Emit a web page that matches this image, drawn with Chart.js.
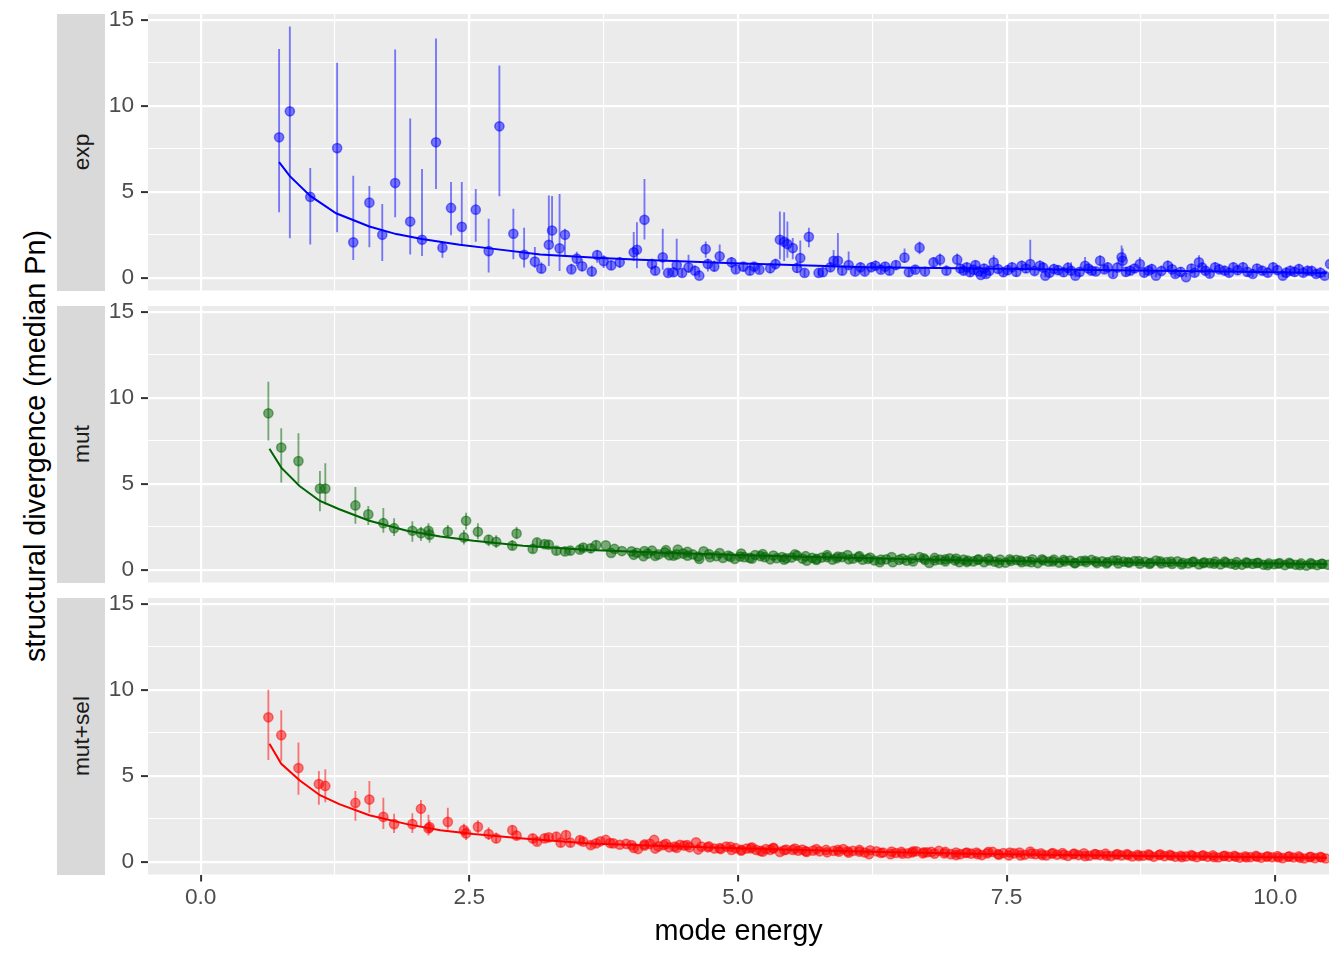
<!DOCTYPE html>
<html>
<head>
<meta charset="utf-8">
<script src="https://cdn.jsdelivr.net/npm/chart.js@4.4.1/dist/chart.umd.min.js"></script>
<style>
  body { margin: 0; background: #fff; width: 1344px; height: 960px; position: relative; overflow: hidden;
         font-family: "Liberation Sans", Arial, sans-serif; }
  canvas { position: absolute; }
  .strip { position: absolute; left: 57px; width: 48px; background: #d9d9d9; }
  .strip span { position: absolute; left: 50%; top: 50%; transform: translate(-50%, -50%) rotate(-90deg);
                color: #1a1a1a; font-size: 22.7px; white-space: nowrap; }
  .ytitle { position: absolute; left: 35px; top: 446px; transform: translate(-50%, -50%) rotate(-90deg);
            font-size: 28.8px; color: #000; white-space: nowrap; }
</style>
</head>
<body>
<div class="ytitle">structural divergence (median Pn)</div>
<script>
// axes
const xTicks = [0, 1.25, 2.5, 3.75, 5, 6.25, 7.5, 8.75, 10];
const xTickLabels = ['0.0', '', '2.5', '', '5.0', '', '7.5', '', '10.0'];
const yTicks = [0, 2.5, 5, 7.5, 10, 12.5, 15];
const yTickLabels = ['0', '', '5', '', '10', '', '15'];
const facetLabels = ['exp', 'mut', 'mut+sel'];

// exp: median Pn per mode, with error range
const expX = [
  0.73, 0.83, 1.02, 1.27, 1.42, 1.57, 1.69, 1.81, 1.95, 2.06,
  2.19, 2.25, 2.33, 2.43, 2.56, 2.68, 2.78, 2.91, 3.01, 3.11,
  3.17, 3.24, 3.27, 3.34, 3.39, 3.45, 3.50, 3.55, 3.64, 3.69,
  3.75, 3.82, 3.90, 4.03, 4.06, 4.13, 4.20, 4.23, 4.30, 4.35,
  4.40, 4.43, 4.48, 4.54, 4.60, 4.64, 4.70, 4.72, 4.78, 4.83,
  4.94, 4.98, 5.05, 5.11, 5.15, 5.20, 5.30, 5.35, 5.39, 5.43,
  5.46, 5.51, 5.55, 5.58, 5.62, 5.66, 5.75, 5.79, 5.86, 5.89,
  5.93, 5.97, 6.03, 6.09, 6.14, 6.18, 6.24, 6.28, 6.33, 6.37,
  6.41, 6.47, 6.55, 6.59, 6.65, 6.69, 6.74, 6.82, 6.88, 6.94,
  7.04, 7.07, 7.10, 7.13, 7.16, 7.19, 7.21, 7.24, 7.26, 7.29,
  7.31, 7.34, 7.38, 7.42, 7.47, 7.51, 7.55, 7.59, 7.64, 7.68,
  7.72, 7.76, 7.81, 7.84, 7.86, 7.90, 7.94, 7.98, 8.03, 8.07,
  8.10, 8.14, 8.18, 8.23, 8.26, 8.29, 8.33, 8.37, 8.41, 8.44,
  8.49, 8.53, 8.57, 8.58, 8.61, 8.65, 8.69, 8.74, 8.78, 8.82,
  8.85, 8.89, 8.94, 9.00, 9.04, 9.07, 9.12, 9.17, 9.22, 9.25,
  9.29, 9.32, 9.35, 9.39, 9.44, 9.48, 9.53, 9.57, 9.61, 9.65,
  9.70, 9.74, 9.79, 9.83, 9.88, 9.93, 9.98, 10.02, 10.07, 10.10,
  10.14, 10.18, 10.22, 10.26, 10.30, 10.34, 10.38, 10.42, 10.46, 10.51
];
const expY = [
  8.18, 9.69, 4.71, 7.55, 2.07, 4.38, 2.51, 5.52, 3.28, 2.22,
  7.89, 1.76, 4.07, 2.97, 3.97, 1.56, 8.82, 2.57, 1.35, 0.95,
  0.54, 1.93, 2.76, 1.72, 2.51, 0.50, 1.12, 0.68, 0.37, 1.33,
  0.98, 0.73, 0.91, 1.49, 1.64, 3.38, 0.81, 0.42, 1.20, 0.29,
  0.33, 0.75, 0.29, 0.62, 0.42, 0.13, 1.68, 0.81, 0.66, 1.26,
  0.91, 0.50, 0.66, 0.42, 0.66, 0.48, 0.56, 0.81, 2.22, 2.10,
  1.97, 1.74, 0.58, 1.16, 0.29, 2.39, 0.29, 0.33, 0.62, 1.00,
  1.00, 0.42, 0.75, 0.37, 0.62, 0.37, 0.62, 0.71, 0.48, 0.66,
  0.42, 0.75, 1.18, 0.33, 0.48, 1.76, 0.37, 0.91, 1.06, 0.42,
  1.06, 0.55, 0.42, 0.62, 0.33, 0.48, 0.75, 0.38, 0.17, 0.55,
  0.23, 0.42, 0.91, 0.52, 0.33, 0.45, 0.62, 0.35, 0.71, 0.55,
  0.81, 0.40, 0.71, 0.60, 0.13, 0.30, 0.52, 0.45, 0.33, 0.58,
  0.42, 0.13, 0.35, 0.71, 0.55, 0.42, 0.38, 1.00, 0.50, 0.62,
  0.23, 0.60, 1.20, 1.00, 0.35, 0.42, 0.55, 0.81, 0.30, 0.42,
  0.52, 0.13, 0.40, 0.71, 0.50, 0.23, 0.35, 0.04, 0.55, 0.30,
  0.91, 0.60, 0.42, 0.25, 0.62, 0.50, 0.42, 0.30, 0.62, 0.45,
  0.62, 0.35, 0.23, 0.55, 0.42, 0.30, 0.62, 0.45, 0.13, 0.30,
  0.42, 0.35, 0.52, 0.30, 0.42, 0.40, 0.23, 0.30, 0.13, 0.81
];
const expLo = [
  3.84, 2.33, 1.97, 2.68, 1.06, 1.80, 1.00, 3.55, 1.39, 1.29,
  5.19, 1.20, 2.50, 1.97, 2.12, 0.33, 4.77, 1.10, 0.62, 0.60,
  0.30, 0.71, 2.06, 0.42, 1.29, 0.30, 0.70, 0.40, 0.15, 0.90,
  0.60, 0.50, 0.60, 1.00, 0.58, 2.26, 0.50, 0.20, 0.50, 0.10,
  0.10, 0.40, 0.10, 0.30, 0.20, 0.00, 1.20, 0.40, 0.40, 0.90,
  0.60, 0.30, 0.40, 0.20, 0.40, 0.30, 0.30, 0.50, 1.10, 1.00,
  1.20, 1.10, 0.30, 0.60, 0.10, 1.80, 0.10, 0.10, 0.40, 0.60,
  0.50, 0.20, 0.50, 0.20, 0.40, 0.20, 0.40, 0.50, 0.30, 0.40,
  0.20, 0.50, 0.90, 0.10, 0.30, 1.40, 0.20, 0.60, 0.70, 0.20,
  0.80, 0.30, 0.20, 0.40, 0.10, 0.30, 0.50, 0.20, 0.00, 0.30,
  0.00, 0.20, 0.60, 0.30, 0.10, 0.20, 0.40, 0.10, 0.50, 0.30,
  0.50, 0.20, 0.50, 0.40, 0.00, 0.10, 0.30, 0.20, 0.10, 0.30,
  0.20, 0.00, 0.10, 0.40, 0.30, 0.20, 0.20, 0.70, 0.30, 0.40,
  0.00, 0.40, 0.80, 0.60, 0.10, 0.20, 0.30, 0.50, 0.10, 0.20,
  0.30, 0.00, 0.20, 0.40, 0.30, 0.00, 0.10, 0.00, 0.30, 0.10,
  0.60, 0.40, 0.20, 0.00, 0.40, 0.30, 0.20, 0.10, 0.40, 0.20,
  0.40, 0.10, 0.00, 0.30, 0.20, 0.10, 0.40, 0.20, 0.00, 0.10,
  0.20, 0.10, 0.30, 0.10, 0.20, 0.20, 0.00, 0.10, 0.00, 0.50
];
const expHi = [
  13.30, 14.60, 6.37, 12.50, 5.92, 5.33, 4.28, 13.26, 9.26, 6.31,
  13.90, 2.08, 5.56, 5.56, 5.15, 3.42, 12.33, 4.00, 2.90, 1.78,
  0.90, 4.77, 4.75, 4.86, 2.84, 0.80, 1.50, 1.10, 0.70, 1.60,
  1.30, 1.00, 1.20, 2.65, 3.22, 5.73, 1.10, 0.70, 2.84, 0.50,
  0.60, 2.26, 0.50, 1.33, 0.70, 0.40, 2.10, 1.10, 1.00, 1.93,
  1.20, 0.80, 0.90, 0.70, 0.90, 0.70, 0.80, 1.10, 3.84, 3.80,
  3.26, 2.30, 0.90, 2.16, 0.50, 2.90, 0.50, 0.60, 0.90, 1.60,
  2.60, 0.70, 1.52, 0.60, 0.90, 0.60, 0.90, 1.00, 0.70, 0.90,
  0.70, 1.00, 1.70, 0.60, 0.70, 2.10, 0.60, 1.20, 1.40, 0.70,
  1.40, 0.80, 0.70, 0.90, 0.60, 0.70, 1.00, 0.60, 0.40, 0.80,
  0.50, 0.70, 1.30, 0.80, 0.60, 0.70, 0.90, 0.60, 1.00, 0.80,
  2.20, 0.70, 1.00, 0.90, 0.40, 0.60, 0.80, 0.70, 0.60, 0.90,
  0.90, 0.40, 0.60, 1.20, 0.80, 0.70, 0.60, 1.30, 0.80, 0.90,
  0.50, 0.90, 1.87, 1.70, 0.60, 0.70, 0.80, 1.20, 0.60, 0.70,
  0.80, 0.40, 0.70, 1.00, 0.80, 0.50, 0.60, 0.30, 0.80, 0.60,
  1.30, 0.90, 0.70, 0.50, 0.90, 0.80, 0.70, 0.60, 0.90, 0.70,
  0.90, 0.60, 0.50, 0.80, 0.70, 0.60, 0.90, 0.70, 0.40, 0.60,
  0.70, 0.60, 0.80, 0.60, 0.70, 0.70, 0.50, 0.60, 0.40, 1.10
];
const expFitX = [0.73, 0.83, 1.02, 1.26, 1.57, 1.82, 2.06, 2.41, 2.69, 3.16, 3.72, 4.09, 4.96, 6.20, 7.07, 7.44, 8.50, 9.50, 10.48];
const expFitY = [6.74, 5.92, 4.77, 3.76, 2.99, 2.55, 2.26, 1.93, 1.72, 1.37, 1.16, 1.06, 0.85, 0.62, 0.56, 0.54, 0.45, 0.37, 0.29];

// mut
const mutX = [
  0.63, 0.75, 0.91, 1.11, 1.16, 1.44, 1.56, 1.70, 1.80, 1.97,
  2.05, 2.12, 2.13, 2.30, 2.45, 2.47, 2.58, 2.68, 2.75, 2.90,
  2.94, 3.09, 3.13, 3.20, 3.24, 3.31, 3.39, 3.44, 3.53, 3.56,
  3.63, 3.68, 3.77, 3.82, 3.85, 3.92, 4.01, 4.06, 4.12, 4.16,
  4.20, 4.26, 4.32, 4.36, 4.40, 4.44, 4.49, 4.53, 4.58, 4.64,
  4.68, 4.74, 4.80, 4.86, 4.91, 4.97, 5.02, 5.06, 5.11, 5.16,
  5.21, 5.25, 5.30, 5.36, 5.41, 5.45, 5.50, 5.55, 5.60, 5.64,
  5.69, 5.73, 5.78, 5.83, 5.88, 5.92, 5.97, 6.02, 6.07, 6.12,
  6.16, 6.21, 6.27, 6.32, 6.38, 6.44, 6.50, 6.57, 6.62, 6.69,
  6.74, 6.78, 6.83, 6.88, 6.93, 6.97, 7.02, 7.06, 7.10, 7.14,
  7.19, 7.24, 7.29, 7.34, 7.39, 7.44, 7.49, 7.54, 7.59, 7.64,
  7.69, 7.74, 7.79, 7.84, 7.89, 7.94, 7.99, 8.04, 8.09, 8.14,
  8.19, 8.24, 8.29, 8.34, 8.39, 8.44, 8.49, 8.54, 8.59, 8.64,
  8.69, 8.74, 8.79, 8.84, 8.89, 8.94, 8.99, 9.04, 9.09, 9.14,
  9.19, 9.24, 9.29, 9.34, 9.39, 9.44, 9.49, 9.54, 9.59, 9.64,
  9.69, 9.74, 9.79, 9.84, 9.89, 9.94, 9.99, 10.04, 10.09, 10.14,
  10.19, 10.24, 10.29, 10.34, 10.39, 10.44, 10.49,
  // overlapping modes in the dense band
  4.03, 4.13, 4.23, 4.33, 4.43, 4.53, 4.63, 4.73, 4.83, 4.93,
  5.03, 5.13, 5.23, 5.33, 5.43, 5.53, 5.63, 5.73, 5.83, 5.93,
  6.03, 6.13, 6.23, 6.33, 6.43, 6.53, 6.63, 6.73, 6.83, 6.93,
  7.03, 7.13, 7.23, 7.33, 7.43, 7.53, 7.63, 7.73, 7.83, 7.93,
  8.03, 8.13, 8.23, 8.33, 8.43, 8.53, 8.63, 8.73, 8.83, 8.93,
  9.03, 9.13, 9.23, 9.33, 9.43, 9.53, 9.63, 9.73, 9.83, 9.93,
  10.03, 10.13, 10.23, 10.33, 10.43
];
const mutY = [
  9.11, 7.12, 6.33, 4.73, 4.73, 3.75, 3.23, 2.72, 2.43, 2.28,
  2.14, 2.28, 2.04, 2.22, 1.89, 2.86, 2.22, 1.76, 1.64, 1.41,
  2.12, 1.22, 1.60, 1.50, 1.47, 1.12, 1.08, 1.12, 1.18, 1.30,
  1.26, 1.45, 1.43, 0.99, 1.22, 1.10, 1.08, 1.00, 0.80, 0.95,
  1.12, 0.90, 1.02, 0.85, 0.83, 1.18, 0.95, 0.83, 0.90, 0.64,
  1.08, 0.74, 0.80, 0.70, 0.83, 0.64, 0.78, 0.74, 0.70, 0.87,
  0.80, 0.74, 0.62, 0.68, 0.75, 0.68, 0.72, 0.83, 0.66, 0.54,
  0.70, 0.64, 0.72, 0.74, 0.60, 0.68, 0.75, 0.87, 0.65, 0.74,
  0.60, 0.64, 0.55, 0.45, 0.62, 0.45, 0.58, 0.54, 0.66, 0.74,
  0.58, 0.41, 0.55, 0.60, 0.50, 0.68, 0.55, 0.45, 0.60, 0.54,
  0.50, 0.62, 0.45, 0.55, 0.48, 0.60, 0.42, 0.52, 0.58, 0.45,
  0.50, 0.62, 0.40, 0.55, 0.48, 0.60, 0.42, 0.50, 0.55, 0.40,
  0.52, 0.45, 0.58, 0.40, 0.50, 0.45, 0.55, 0.38, 0.48, 0.42,
  0.52, 0.36, 0.47, 0.42, 0.55, 0.38, 0.45, 0.35, 0.50, 0.42,
  0.38, 0.48, 0.32, 0.44, 0.40, 0.48, 0.32, 0.42, 0.36, 0.45,
  0.30, 0.40, 0.35, 0.42, 0.30, 0.38, 0.33, 0.40, 0.28, 0.36,
  0.30, 0.38, 0.25, 0.33, 0.28, 0.35, 0.30,
  0.88, 1.10, 0.82, 1.15, 0.90, 1.05, 0.78, 0.92, 0.98, 0.76,
  0.95, 0.66, 0.92, 0.84, 0.60, 0.90, 0.80, 0.58, 0.86, 0.78,
  0.62, 0.80, 0.72, 0.60, 0.75, 0.66, 0.50, 0.68, 0.70, 0.62,
  0.66, 0.46, 0.58, 0.66, 0.40, 0.62, 0.55, 0.45, 0.62, 0.50,
  0.58, 0.40, 0.55, 0.50, 0.38, 0.56, 0.46, 0.52, 0.35, 0.50,
  0.48, 0.32, 0.46, 0.40, 0.36, 0.48, 0.30, 0.44, 0.40, 0.28,
  0.36, 0.42, 0.28, 0.40, 0.36
];
// error ranges of the first (sparse) mut points; the rest hide under the markers
const mutLo = [
  7.55, 5.11, 5.08, 3.43, 3.82, 2.70, 2.63, 2.18, 2.00, 1.66,
  1.70, 1.80, 1.60, 1.90, 1.50, 2.37, 1.80, 1.40, 1.30, 1.20,
  1.80, 1.00, 1.30, 1.30, 1.30, 0.90, 0.90, 0.90, 1.00, 1.10,
  1.00, 1.20
];
const mutHi = [
  10.93, 8.22, 7.93, 5.73, 6.18, 4.80, 3.70, 3.59, 2.99, 2.82,
  2.50, 2.70, 2.40, 2.60, 2.30, 3.30, 2.70, 2.00, 2.00, 1.70,
  2.50, 1.50, 1.80, 1.70, 1.70, 1.30, 1.30, 1.30, 1.40, 1.50,
  1.50, 1.70
];
const mutFitX = [0.64, 0.75, 0.92, 1.11, 1.29, 1.57, 1.92, 2.23, 2.54, 3.00, 3.62, 4.30, 4.99, 5.60, 6.23, 7.16, 8.00, 9.00, 10.00, 10.48];
const mutFitY = [7.05, 5.95, 4.88, 4.01, 3.53, 2.86, 2.28, 1.95, 1.70, 1.41, 1.16, 1.00, 0.87, 0.77, 0.68, 0.55, 0.47, 0.41, 0.37, 0.35];

// mut+sel
const mutselX = [
  0.63, 0.75, 0.91, 1.10, 1.16, 1.44, 1.57, 1.70, 1.80, 1.97,
  2.05, 2.12, 2.13, 2.30, 2.45, 2.47, 2.58, 2.68, 2.75, 2.90,
  2.94, 3.09, 3.13, 3.20, 3.24, 3.31, 3.35, 3.40, 3.44, 3.53,
  3.56, 3.63, 3.68, 3.72, 3.77, 3.81, 3.84, 3.90, 3.96, 4.01,
  4.07, 4.13, 4.18, 4.22, 4.26, 4.31, 4.36, 4.41, 4.46, 4.50,
  4.55, 4.61, 4.66, 4.72, 4.78, 4.84, 4.89, 4.94, 4.98, 5.03,
  5.08, 5.12, 5.17, 5.21, 5.26, 5.30, 5.33, 5.39, 5.45, 5.51,
  5.56, 5.60, 5.64, 5.70, 5.76, 5.82, 5.89, 5.94, 5.98, 6.02,
  6.07, 6.13, 6.18, 6.22, 6.29, 6.35, 6.42, 6.47, 6.52, 6.58,
  6.62, 6.66, 6.72, 6.76, 6.80, 6.87, 6.92, 6.98, 7.03, 7.07,
  7.12, 7.17, 7.22, 7.27, 7.32, 7.37, 7.42, 7.47, 7.52, 7.57,
  7.62, 7.67, 7.72, 7.77, 7.82, 7.87, 7.92, 7.97, 8.02, 8.07,
  8.12, 8.17, 8.22, 8.27, 8.32, 8.37, 8.42, 8.47, 8.52, 8.57,
  8.62, 8.67, 8.72, 8.77, 8.82, 8.87, 8.92, 8.97, 9.02, 9.07,
  9.12, 9.17, 9.22, 9.27, 9.32, 9.37, 9.42, 9.47, 9.52, 9.57,
  9.62, 9.67, 9.72, 9.77, 9.82, 9.87, 9.92, 9.97, 10.02, 10.07,
  10.12, 10.17, 10.22, 10.27, 10.32, 10.37, 10.42, 10.47,
  // overlapping modes in the dense band
  4.03, 4.13, 4.23, 4.33, 4.43, 4.53, 4.63, 4.73, 4.83, 4.93,
  5.03, 5.13, 5.23, 5.33, 5.43, 5.53, 5.63, 5.73, 5.83, 5.93,
  6.03, 6.13, 6.23, 6.33, 6.43, 6.53, 6.63, 6.73, 6.83, 6.93,
  7.03, 7.13, 7.23, 7.33, 7.43, 7.53, 7.63, 7.73, 7.83, 7.93,
  8.03, 8.13, 8.23, 8.33, 8.43, 8.53, 8.63, 8.73, 8.83, 8.93,
  9.03, 9.13, 9.23, 9.33, 9.43, 9.53, 9.63, 9.73, 9.83, 9.93,
  10.03, 10.13, 10.23, 10.33, 10.43
];
const mutselY = [
  8.41, 7.37, 5.46, 4.53, 4.42, 3.43, 3.63, 2.62, 2.20, 2.20,
  3.09, 1.95, 2.03, 2.33, 1.85, 1.66, 2.04, 1.62, 1.37, 1.85,
  1.53, 1.37, 1.18, 1.37, 1.43, 1.47, 1.12, 1.56, 1.12, 1.27,
  1.18, 0.98, 1.08, 1.20, 1.28, 1.10, 1.08, 1.00, 1.05, 0.98,
  0.75, 0.95, 1.05, 1.28, 0.90, 0.98, 0.85, 0.89, 1.00, 0.95,
  0.85, 1.14, 0.89, 0.85, 0.78, 0.75, 0.89, 0.70, 0.80, 0.70,
  0.78, 0.79, 0.70, 0.64, 0.75, 0.70, 0.79, 0.58, 0.72, 0.70,
  0.65, 0.72, 0.58, 0.66, 0.62, 0.70, 0.64, 0.60, 0.75, 0.62,
  0.64, 0.70, 0.55, 0.45, 0.62, 0.55, 0.45, 0.52, 0.58, 0.50,
  0.55, 0.62, 0.50, 0.56, 0.58, 0.64, 0.50, 0.45, 0.55, 0.45,
  0.52, 0.48, 0.55, 0.40, 0.50, 0.58, 0.45, 0.52, 0.38, 0.50,
  0.55, 0.42, 0.60, 0.45, 0.50, 0.38, 0.48, 0.42, 0.52, 0.35,
  0.45, 0.40, 0.50, 0.36, 0.46, 0.40, 0.48, 0.34, 0.42, 0.38,
  0.45, 0.32, 0.42, 0.36, 0.44, 0.30, 0.40, 0.34, 0.42, 0.30,
  0.36, 0.32, 0.40, 0.28, 0.36, 0.30, 0.38, 0.26, 0.34, 0.30,
  0.36, 0.25, 0.33, 0.28, 0.35, 0.24, 0.30, 0.27, 0.34, 0.22,
  0.30, 0.26, 0.32, 0.20, 0.28, 0.22, 0.30, 0.20,
  0.82, 1.02, 0.78, 1.05, 0.82, 0.98, 0.72, 0.90, 0.80, 0.88,
  0.66, 0.85, 0.60, 0.82, 0.68, 0.78, 0.62, 0.74, 0.56, 0.70,
  0.54, 0.60, 0.68, 0.52, 0.60, 0.48, 0.62, 0.56, 0.48, 0.58,
  0.40, 0.55, 0.45, 0.58, 0.42, 0.55, 0.38, 0.48, 0.40, 0.52,
  0.42, 0.48, 0.34, 0.44, 0.36, 0.46, 0.40, 0.34, 0.38, 0.44,
  0.36, 0.28, 0.34, 0.38, 0.28, 0.36, 0.30, 0.26, 0.30, 0.33,
  0.26, 0.32, 0.24, 0.30, 0.26
];
const mutselLo = [
  5.95, 5.90, 3.92, 3.34, 3.49, 2.41, 2.88, 1.93, 1.70, 1.70,
  2.04, 1.56, 1.70, 1.90, 1.50, 1.30, 1.70, 1.30, 1.10, 1.60,
  1.30, 1.10, 1.00, 1.20, 1.20, 1.20, 0.90, 1.30, 0.90, 1.10,
  1.00, 0.80, 0.90
];
const mutselHi = [
  10.00, 8.80, 6.93, 5.27, 5.37, 4.11, 4.69, 3.71, 2.78, 2.82,
  3.59, 2.72, 2.40, 3.13, 2.20, 2.00, 2.40, 2.00, 1.70, 2.10,
  1.80, 1.60, 1.40, 1.60, 1.60, 1.70, 1.30, 1.80, 1.30, 1.50,
  1.40, 1.20, 1.30
];
const mutselFitX = [0.64, 0.75, 0.92, 1.11, 1.29, 1.57, 1.92, 2.23, 2.54, 3.00, 3.62, 4.30, 4.99, 5.60, 6.23, 7.16, 8.00, 9.00, 10.00, 10.48];
const mutselFitY = [6.87, 5.71, 4.75, 3.88, 3.36, 2.72, 2.20, 1.85, 1.62, 1.37, 1.08, 0.93, 0.79, 0.70, 0.60, 0.47, 0.40, 0.33, 0.27, 0.25];

const FONT = '"Liberation Sans", Arial, sans-serif';
const PANEL_H = 276.5;   // height of one facet panel
const PAD = 24;          // room above/below the panel for the 0 and 15 labels
const LEFT = 105;        // canvas starts right after the strip
const WIDTH = 1344 - LEFT;

const panels = [
  { x: expX, y: expY, lo: expLo, hi: expHi, fitX: expFitX, fitY: expFitY, rgb: '0,0,255', line: '#0000ff', top: 14 },
  { x: mutX, y: mutY, lo: mutLo, hi: mutHi, fitX: mutFitX, fitY: mutFitY, rgb: '0,100,0', line: '#006400', top: 306 },
  { x: mutselX, y: mutselY, lo: mutselLo, hi: mutselHi, fitX: mutselFitX, fitY: mutselFitY, rgb: '255,0,0', line: '#ff0000', top: 598 }
];

// grey panel background behind the grid
const panelBg = {
  id: 'panelBg',
  beforeDraw(chart) {
    const { ctx, chartArea: a } = chart;
    ctx.save();
    ctx.fillStyle = '#ebebeb';
    ctx.fillRect(a.left, a.top, a.right - a.left, a.bottom - a.top);
    ctx.restore();
  }
};

panels.forEach((p, i) => {
  const last = i === panels.length - 1;

  const strip = document.createElement('div');
  strip.className = 'strip';
  strip.style.top = p.top + 'px';
  strip.style.height = PANEL_H + 'px';
  const label = document.createElement('span');
  label.textContent = facetLabels[i];
  strip.appendChild(label);
  document.body.appendChild(strip);

  const top = p.top - PAD;
  const height = last ? 960 - top : Math.round(PANEL_H + 2 * PAD);
  const canvas = document.createElement('canvas');
  canvas.width = WIDTH;
  canvas.height = height;
  canvas.style.left = LEFT + 'px';
  canvas.style.top = top + 'px';
  canvas.style.width = WIDTH + 'px';
  canvas.style.height = height + 'px';
  document.body.appendChild(canvas);

  new Chart(canvas, {
    type: 'scatter',
    data: {
      datasets: [
        {
          type: 'line',
          data: p.fitX.map((v, k) => ({ x: v, y: p.fitY[k] })),
          borderColor: p.line,
          borderWidth: 2,
          pointRadius: 0,
          tension: 0,
          fill: false,
          clip: 0
        },
        {
          type: 'scatter',
          data: p.x.map((v, k) => ({ x: v, y: p.y[k] })),
          backgroundColor: `rgba(${p.rgb},0.5)`,
          borderColor: `rgba(${p.rgb},0.5)`,
          pointRadius: 4.6,
          pointBorderWidth: 1.5,
          clip: 0
        },
        {
          type: 'bar',
          data: p.lo.map((v, k) => ({ x: p.x[k], y: [v, p.hi[k]] })),
          backgroundColor: `rgba(${p.rgb},0.5)`,
          borderWidth: 0,
          barThickness: 1.2,
          clip: 0
        }
      ]
    },
    options: {
      responsive: false,
      animation: false,
      events: [],
      layout: { padding: { top: PAD, bottom: last ? 0 : height - PAD - PANEL_H, left: 0, right: 15 } },
      plugins: { legend: { display: false }, tooltip: { enabled: false } },
      scales: {
        x: {
          type: 'linear',
          min: -0.49,
          max: 10.5,
          bounds: 'data',
          offset: false,
          afterBuildTicks: s => { s.ticks = xTicks.map(v => ({ value: v })); },
          afterFit: s => { s.height = last ? 960 - p.top - PANEL_H : 0; },
          border: { display: false },
          grid: {
            offset: false,
            color: '#ffffff',
            lineWidth: c => (xTickLabels[c.index] ? 2.2 : 1.1),
            drawTicks: last,
            tickLength: 7,
            tickWidth: 2,
            tickColor: c => (xTickLabels[c.index] ? '#333333' : 'rgba(0,0,0,0)')
          },
          ticks: {
            display: last,
            callback: (v, k) => xTickLabels[k],
            color: '#4d4d4d',
            font: { family: FONT, size: 22.7 },
            padding: 3,
            maxRotation: 0,
            autoSkip: false
          },
          title: {
            display: last,
            text: 'mode energy',
            color: '#000000',
            font: { family: FONT, size: 28.8 },
            padding: { top: 0, bottom: 10.7 }
          }
        },
        y: {
          type: 'linear',
          min: -0.73,
          max: 15.35,
          bounds: 'data',
          offset: false,
          afterBuildTicks: s => { s.ticks = yTicks.map(v => ({ value: v })); },
          afterFit: s => { s.width = 43; },
          border: { display: false },
          grid: {
            offset: false,
            color: '#ffffff',
            lineWidth: c => (yTickLabels[c.index] ? 2.2 : 1.1),
            tickLength: 7,
            tickWidth: 2,
            tickColor: c => (yTickLabels[c.index] ? '#333333' : 'rgba(0,0,0,0)')
          },
          ticks: {
            callback: (v, k) => yTickLabels[k],
            color: '#4d4d4d',
            font: { family: FONT, size: 22.7 },
            padding: 7,
            autoSkip: false
          }
        }
      }
    },
    plugins: [panelBg]
  });
});
</script>
</body>
</html>
